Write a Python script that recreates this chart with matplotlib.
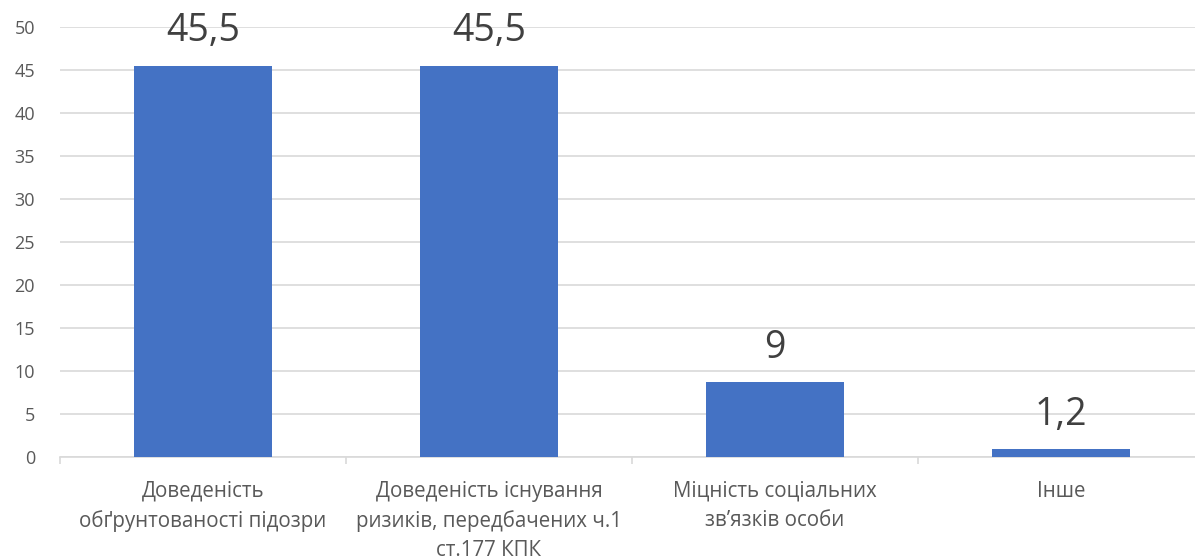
import matplotlib
matplotlib.use("Agg")
import matplotlib.pyplot as plt
from matplotlib.ticker import FixedLocator

plt.rcParams['font.family'] = ['Open Sans', 'DejaVu Sans']

categories = [
    "Доведеність\nобґрунтованості підозри",
    "Доведеність існування\nризиків, передбачених ч.1\nст.177 КПК",
    "Міцність соціальних\nзв’язків особи",
    "Інше",
]
values = [45.5, 45.5, 8.7, 0.9]
value_labels = ["45,5", "45,5", "9", "1,2"]
y_ticks = [0, 5, 10, 15, 20, 25, 30, 35, 40, 45, 50]

W, H = 1195, 560
fig = plt.figure(figsize=(W / 100, H / 100), dpi=100)
ax = fig.add_axes([60 / W, (H - 457) / H, (1204 - 60) / W, (457 - 27) / H])

x = list(range(len(categories)))
bars = ax.bar(x, values, width=0.485, color="#4472C4", zorder=3)

ax.set_xlim(-0.5, len(categories) - 0.5)
ax.set_ylim(0, 50)
ax.set_yticks(y_ticks)
ax.yaxis.grid(True, color="#D9D9D9", linewidth=1.2, zorder=0)
ax.set_axisbelow(True)

for s in ["top", "right", "left"]:
    ax.spines[s].set_visible(False)
ax.spines["bottom"].set_color("#D9D9D9")
ax.spines["bottom"].set_linewidth(1.2)

ax.tick_params(axis="y", length=0, labelsize=13, labelcolor="#595959", pad=18)
ax.set_xticks(x)
ax.set_xticklabels(categories, fontsize=14.8, color="#595959", linespacing=1.5)
ax.tick_params(axis="x", which="major", length=0, pad=17)
ax.xaxis.set_minor_locator(FixedLocator([i - 0.5 for i in range(len(categories) + 1)]))
ax.tick_params(axis="x", which="minor", length=5, color="#D9D9D9", width=1.2)

for rect, lab in zip(bars, value_labels):
    ax.annotate(lab, (rect.get_x() + rect.get_width() / 2, rect.get_height()),
                xytext=(0, 17.5), textcoords="offset points",
                ha="center", va="baseline", fontsize=27, color="#404040")

fig.savefig("out.png", dpi=100)
